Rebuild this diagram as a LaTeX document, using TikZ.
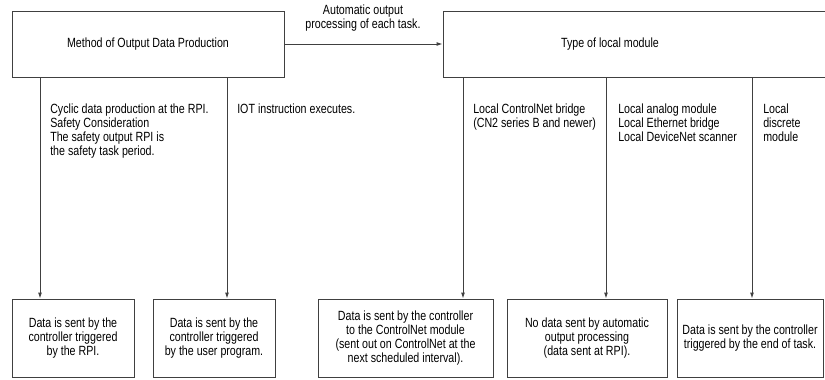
\documentclass[tikz,border=0pt]{standalone}
\usepackage{fontspec}
\setmainfont{Liberation Sans}[FakeStretch=0.8]
\usetikzlibrary{arrows.meta}

\tikzset{
  box/.style={draw=black!75,line width=0.7pt,inner sep=0pt,align=center},
  flow/.style={draw=black!75,line width=0.7pt,-{Latex[length=4.5pt,width=3pt]}},
  note/.style={anchor=north west,align=left,inner sep=0pt},
}

\begin{document}
\begin{tikzpicture}[x=0.75pt,y=-0.75pt,font=\fontsize{10}{10.3}\selectfont]
  \useasboundingbox (0,0) rectangle (825,379);
  % top row
  \node[box,minimum width=204pt,minimum height=49.5pt] (method) at (148,44) {Method of Output Data Production};
  \node[box,minimum width=288pt,minimum height=49.5pt] (typebox) at (635,44) {};
  \node (typetext) at (610,44) {Type of local module};
  \draw[flow] (method.east) -- (typebox.west);
  \node[align=center,inner sep=0pt] (autolabel) at (363,18) {Automatic output\\processing of each task.};
  % conditions
  \node[note] (cyclic) at (50,104) {Cyclic data production at the RPI.\\Safety Consideration\\The safety output RPI is\\the safety task period.};
  \node[note] (iot) at (237,104) {IOT instruction executes.};
  \node[note] (cnet) at (473,104) {Local ControlNet bridge\\(CN2 series B and newer)};
  \node[note] (analog) at (618,104) {Local analog module\\Local Ethernet bridge\\Local DeviceNet scanner};
  \node[note] (discrete) at (763,104) {Local\\discrete\\module};
  % results
  \node[box,minimum width=91.5pt,minimum height=58.5pt] (b1) at (73,338) {Data is sent by the\\controller triggered\\by the RPI.};
  \node[box,minimum width=91.5pt,minimum height=58.5pt] (b2) at (214,338) {Data is sent by the\\controller triggered\\by the user program.};
  \node[box,minimum width=131.25pt,minimum height=58.5pt] (b3) at (405.5,338) {Data is sent by the controller\\to the ControlNet module\\(sent out on ControlNet at the\\next scheduled interval).};
  \node[box,minimum width=120pt,minimum height=58.5pt] (b4) at (587,338) {No data sent by automatic\\output processing\\(data sent at RPI).};
  \node[box,minimum width=109.5pt,minimum height=58.5pt] (b5) at (750,338) {Data is sent by the controller\\triggered by the end of task.};
  % branches
  \coordinate (m1) at (40,77);
  \coordinate (m2) at (227,77);
  \coordinate (t1) at (463,77);
  \coordinate (t2) at (606,77);
  \coordinate (t3) at (752,77);
  \draw[flow] (m1) -- (m1 |- b1.north);
  \draw[flow] (m2) -- (m2 |- b2.north);
  \draw[flow] (t1) -- (t1 |- b3.north);
  \draw[flow] (t2) -- (t2 |- b4.north);
  \draw[flow] (t3) -- (t3 |- b5.north);
\end{tikzpicture}
\end{document}
